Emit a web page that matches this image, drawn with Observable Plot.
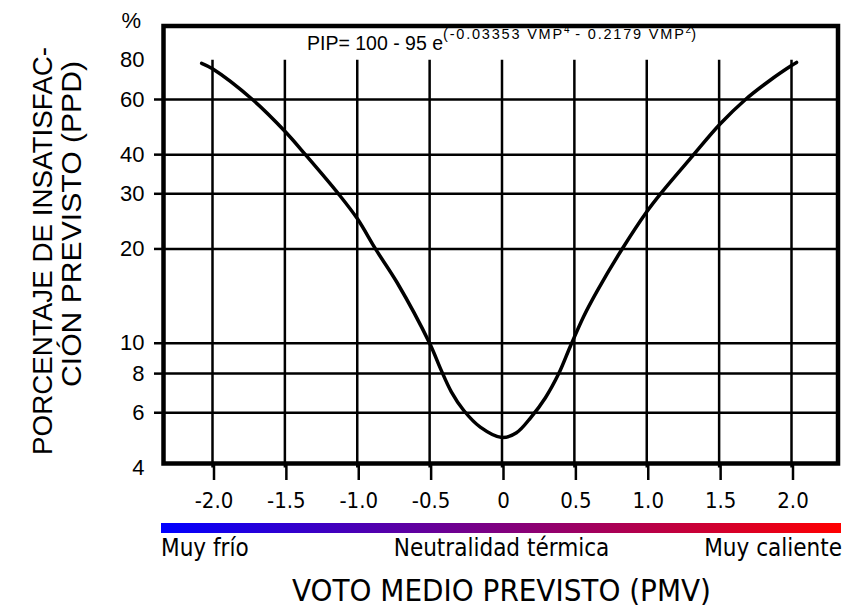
<!DOCTYPE html>
<html>
<head>
<meta charset="utf-8">
<script src="https://cdn.jsdelivr.net/npm/d3@7"></script>
<script src="https://cdn.jsdelivr.net/npm/@observablehq/plot@0.6"></script>
<style>
  html, body { margin: 0; padding: 0; background: #fff; }
  svg { display: block; }
</style>
</head>
<body>
<div id="chart"></div>
<script>
// PPD curve as a function of PMV (points along the drawn curve)
const pmv = [-2.075, -2.0, -1.724, -1.5, -1.358, -1.13, -1.0, -0.874, -0.724, -0.5,
             -0.425, -0.35, -0.264, -0.15, 0.0, 0.1, 0.2, 0.3, 0.392, 0.473,
             0.565, 0.658, 0.83, 1.0, 1.095, 1.314, 1.505, 1.682, 1.85, 2.0, 2.035];
const ppd = [78.3, 75.2, 60.0, 47.5, 40.0, 30.0, 25.0, 20.0, 15.6, 10.0,
             8.3, 7.0, 6.1, 5.4, 5.0, 5.18, 5.8, 6.7, 8.0, 9.8,
             12.2, 14.7, 20.0, 26.3, 30.0, 39.5, 50.0, 60.0, 69.0, 77.0, 78.8];

// Axis ticks and labels
const xTicks = [-2, -1.5, -1, -0.5, 0, 0.5, 1, 1.5, 2];
const xTickLabels = ["-2.0", "-1.5", "-1.0", "-0.5", "0", "0.5", "1.0", "1.5", "2.0"];
const yGridTicks = [6, 8, 10, 20, 30, 40, 60];
const yLabelTicks = [4, 6, 8, 10, 20, 30, 40, 60, 80];
const yUnit = "%";
const yTitleLines = ["PORCENTAJE DE INSATISFAC-", "CIÓN PREVISTO (PPD)"];
const xTitle = "VOTO MEDIO PREVISTO (PMV)";
const sensationLabels = ["Muy frío", "Neutralidad térmica", "Muy caliente"];
const sensationColors = ["#0000ff", "#ff0000"];

const curve = pmv.map((v, i) => ({pmv: v, ppd: ppd[i]}));

const W = 847, H = 609;
const font = "'Liberation Sans', Arial, Helvetica, sans-serif";
const narrow = "'Liberation Sans Narrow', 'Arial Narrow', 'DejaVu Sans Condensed', sans-serif";

const chart = Plot.plot({
  width: W,
  height: H,
  marginLeft: 163,
  marginRight: 9.5,
  marginTop: 25.5,
  marginBottom: 146,
  style: {fontFamily: font, background: "#fff", color: "#000", overflow: "visible"},
  x: {domain: [-2, 2], range: [212, 791]},
  y: {type: "log", domain: [4, 100], range: [467.4, 29.5]},
  marks: [
    // grid: horizontal lines span the frame, vertical lines rise to the 80 % level
    Plot.ruleY(yGridTicks, {stroke: "#000", strokeWidth: 2.5}),
    Plot.ruleX(xTicks, {y1: 80, y2: 4, stroke: "#000", strokeWidth: 2.5}),
    Plot.axisX(xTicks, {
      tickSize: 17, tickPadding: 12, strokeWidth: 2.5, fontSize: 22,
      fontFamily: narrow, label: null, dx: 1.5,
      style: {letterSpacing: "3px"},
      tickFormat: d => xTickLabels[xTicks.indexOf(d)]
    }),
    Plot.axisY(yGridTicks, {tickSize: 9, strokeWidth: 2.5, text: null, label: null}),
    Plot.text(yLabelTicks, {
      y: d => d, text: d => String(d), frameAnchor: "left",
      textAnchor: "end", dx: -19, fontSize: 22
    }),
    Plot.line(curve, {x: "pmv", y: "ppd", curve: "catmull-rom", stroke: "#000", strokeWidth: 3.5}),
    Plot.frame({stroke: "#000", strokeWidth: 4.5})
  ]
});

document.getElementById("chart").appendChild(chart);

const svg = d3.select(chart);
const xs = chart.scale("x");
const x0 = xs.apply(0);

// Formula over the plot, with its exponent set as superscript
const f = svg.append("text")
  .attr("x", x0).attr("y", 49.5)
  .attr("text-anchor", "middle")
  .attr("font-family", font)
  .attr("fill", "#000");
f.append("tspan").attr("font-size", 19.5).text("PIP= 100 - 95 e");
f.append("tspan").attr("font-size", 14.5).attr("letter-spacing", "1.8px").attr("dy", -11).text("(-0.03353 VMP");
f.append("tspan").attr("font-size", 10).attr("dy", -5.5).text("4");
f.append("tspan").attr("font-size", 14.5).attr("letter-spacing", "1.8px").attr("dy", 5.5).text(" - 0.2179 VMP");
f.append("tspan").attr("font-size", 10).attr("dy", -5.5).text("2");
f.append("tspan").attr("font-size", 14.5).attr("dy", 5.5).text(")");

// Unit above the y tick labels
svg.append("text")
  .attr("x", 141).attr("y", 28)
  .attr("text-anchor", "end")
  .attr("font-family", font).attr("font-size", 22)
  .text(yUnit);

// Two-line rotated y title
const yTitlePos = [[42.7, 251], [71.7, 224]];
const yTitleLen = [408, 326];
yTitleLines.forEach((t, i) => {
  svg.append("text")
    .attr("transform", `translate(${yTitlePos[i][0]},${yTitlePos[i][1]}) rotate(-90)`)
    .attr("text-anchor", "middle")
    .attr("dy", "0.36em")
    .attr("font-family", font).attr("font-size", 27)
    .attr("textLength", yTitleLen[i])
    .attr("lengthAdjust", "spacingAndGlyphs")
    .text(t);
});

// Thermal sensation colour bar
const defs = svg.append("defs");
const grad = defs.append("linearGradient").attr("id", "sensation").attr("x1", "0%").attr("x2", "100%");
grad.append("stop").attr("offset", "0%").attr("stop-color", sensationColors[0]);
grad.append("stop").attr("offset", "100%").attr("stop-color", sensationColors[1]);
svg.append("rect")
  .attr("x", 161).attr("y", 523).attr("width", 680).attr("height", 10)
  .attr("fill", "url(#sensation)");

const anchors = ["start", "middle", "end"];
const labelX = [161, x0, 842];
sensationLabels.forEach((t, i) => {
  svg.append("text")
    .attr("x", labelX[i]).attr("y", 556)
    .attr("text-anchor", anchors[i])
    .attr("font-family", narrow).attr("font-size", 24)
    .text(t);
});

// x title
svg.append("text")
  .attr("x", x0).attr("y", 601)
  .attr("text-anchor", "middle")
  .attr("font-family", narrow).attr("font-size", 31)
  .text(xTitle);
</script>
</body>
</html>
